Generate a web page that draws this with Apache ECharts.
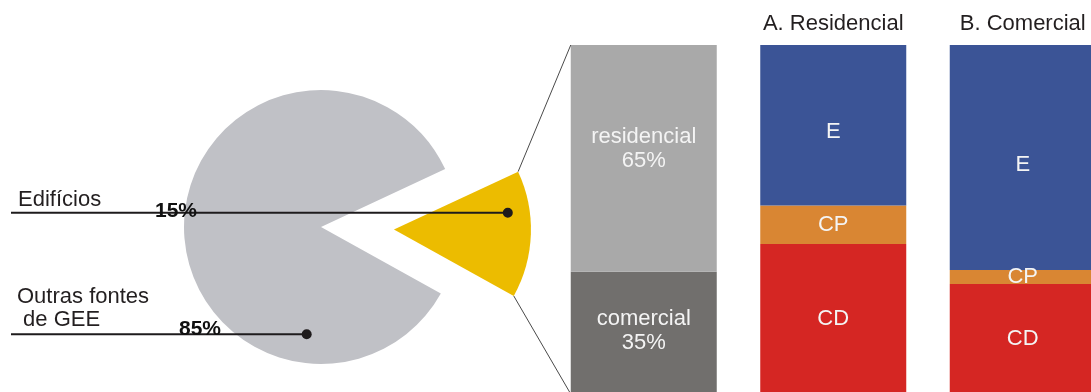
<!DOCTYPE html>
<html>
<head>
<meta charset="utf-8">
<script src="https://cdn.jsdelivr.net/npm/echarts@6/dist/echarts.min.js"></script>
<style>
  html, body { margin: 0; padding: 0; background: #ffffff; }
  #chart { width: 1091px; height: 392px; }
</style>
</head>
<body>
<div id="chart"></div>
<script>
// Emission sources (pie) and breakdown of building emissions (stacked bars)
const pieNames = ['Edifícios', 'Outras fontes de GEE'];
const pieValues = [15, 85];
const pieLabels = ['15%', '85%'];

const barCategories = ['', 'A. Residencial', 'B. Comercial'];
const buildingTypes = ['residencial', 'comercial'];
const buildingShares = [65, 35];

const endUses = ['E', 'CP', 'CD'];
const residentialUse = [46, 11, 43];
const commercialUse = [64.5, 4, 31.5];

const FONT = '"Liberation Sans", Arial, Helvetica, sans-serif';
const FS = 22;
const INK = '#231f20';
const PIE_CENTER = [321, 227];
const PIE_R = 137;
const PIE_START = 25;
const PIE_OFFSET = 73;
const BAR_W = 146;

const COLORS = {
  buildings: '#ecbc00',
  others: '#c0c1c6',
  residencial: '#a9a9a9',
  comercial: '#716f6d',
  E: '#3b5496',
  CP: '#d98633',
  CD: '#d52623'
};

const chart = echarts.init(document.getElementById('chart'), null, { renderer: 'canvas' });

function barSeries(name, values, color, labelText, labelOffset) {
  return {
    type: 'bar',
    name: name,
    stack: 'total',
    barWidth: BAR_W,
    data: values,
    itemStyle: { color: color, borderWidth: 0 },
    emphasis: { disabled: true },
    label: {
      show: true,
      position: 'inside',
      formatter: labelText,
      color: '#f4f4f4',
      fontFamily: FONT,
      fontSize: FS,
      lineHeight: 24,
      offset: labelOffset
    }
  };
}

const series = [];
// bottom-to-top stacking order
series.push(barSeries(buildingTypes[1], [buildingShares[1], '-', '-'], COLORS.comercial,
  p => buildingTypes[1] + '\n' + p.value + '%', [0, -2]));
series.push(barSeries(buildingTypes[0], [buildingShares[0], '-', '-'], COLORS.residencial,
  p => buildingTypes[0] + '\n' + p.value + '%', [0, -9]));
series.push(barSeries(endUses[2], ['-', residentialUse[2], commercialUse[2]], COLORS.CD, endUses[2], [0, 0]));
series.push(barSeries(endUses[1], ['-', residentialUse[1], commercialUse[1]], COLORS.CP, endUses[1], [0, 0]));
series.push(barSeries(endUses[0], ['-', residentialUse[0], commercialUse[0]], COLORS.E, endUses[0], [0, 7]));

series.push({
  type: 'pie',
  center: PIE_CENTER,
  radius: PIE_R,
  startAngle: PIE_START,
  clockwise: true,
  selectedMode: 'single',
  selectedOffset: PIE_OFFSET,
  label: { show: false },
  labelLine: { show: false },
  emphasis: { disabled: true },
  data: [
    {
      name: pieNames[0], value: pieValues[0], selected: true,
      itemStyle: { color: COLORS.buildings, borderWidth: 0 },
      select: { itemStyle: { color: COLORS.buildings, borderWidth: 0 } }
    },
    {
      name: pieNames[1], value: pieValues[1],
      itemStyle: { color: COLORS.others, borderWidth: 0 }
    }
  ]
});

chart.setOption({
  animation: false,
  backgroundColor: '#ffffff',
  grid: { left: 549, width: 568.5, top: 45, height: 349, outerBoundsMode: 'none', containLabel: false },
  xAxis: {
    type: 'category',
    position: 'top',
    data: barCategories,
    axisLine: { show: false },
    axisTick: { show: false },
    axisLabel: { color: INK, fontFamily: FONT, fontSize: FS, margin: 10, interval: 0, hideOverlap: false }
  },
  yAxis: { type: 'value', min: 0, max: 100, show: false, splitLine: { show: false } },
  series: series
});

// Geometry of the exploded pie, used for leader lines and connectors
const total = pieValues[0] + pieValues[1];
const sweep = pieValues[0] / total * 360;
const rad = d => d * Math.PI / 180;
const mid = PIE_START - sweep / 2;
const apex = [PIE_CENTER[0] + PIE_OFFSET * Math.cos(rad(mid)), PIE_CENTER[1] - PIE_OFFSET * Math.sin(rad(mid))];
const polar = (c, ang, r) => [c[0] + r * Math.cos(rad(ang)), c[1] - r * Math.sin(rad(ang))];
const upperCorner = polar(apex, PIE_START, PIE_R);
const lowerCorner = polar(apex, PIE_START - sweep, PIE_R);

// anchor points for the value callouts (angle, fraction of radius)
const dotBuildings = polar(apex, 8.4, PIE_R * 0.84);
const dotOthers = polar(PIE_CENTER, -97.6, PIE_R * 0.79);

const barTop = chart.convertToPixel({ gridIndex: 0 }, [0, 100]);
const barBottom = chart.convertToPixel({ gridIndex: 0 }, [0, 0]);
const barLeft = barTop[0] - BAR_W / 2;

const lineStyle = { stroke: '#1e1b1c', lineWidth: 2 };
const thin = { stroke: '#4a4a4a', lineWidth: 1 };
const txt = (x, y, text, extra) => Object.assign({
  type: 'text', x: x, y: y, z: 110,
  style: Object.assign({ text: text, fill: INK, font: FS + 'px ' + FONT, verticalAlign: 'middle', align: 'left' }, extra || {})
});

chart.setOption({
  graphic: [
    { type: 'line', z: 100, shape: { x1: upperCorner[0], y1: upperCorner[1], x2: barLeft, y2: barTop[1] }, style: thin },
    { type: 'line', z: 100, shape: { x1: lowerCorner[0], y1: lowerCorner[1], x2: barLeft, y2: barBottom[1] }, style: thin },

    { type: 'line', z: 100, shape: { x1: 11, y1: dotBuildings[1], x2: dotBuildings[0], y2: dotBuildings[1] }, style: lineStyle },
    { type: 'circle', z: 101, shape: { cx: dotBuildings[0], cy: dotBuildings[1], r: 5 }, style: { fill: '#1e1b1c' } },
    { type: 'line', z: 100, shape: { x1: 11, y1: dotOthers[1], x2: dotOthers[0], y2: dotOthers[1] }, style: lineStyle },
    { type: 'circle', z: 101, shape: { cx: dotOthers[0], cy: dotOthers[1], r: 5 }, style: { fill: '#1e1b1c' } },

    txt(18, dotBuildings[1] - 13, pieNames[0]),
    txt(176, dotBuildings[1] - 2, pieLabels[0], { align: 'center', font: 'bold 21px ' + FONT, fill: '#111' }),
    txt(17, dotOthers[1] - 37, 'Outras fontes'),
    txt(17, dotOthers[1] - 14, ' de GEE'),
    txt(200, dotOthers[1] - 5, pieLabels[1], { align: 'center', font: 'bold 21px ' + FONT, fill: '#111' })
  ]
});
</script>
</body>
</html>
